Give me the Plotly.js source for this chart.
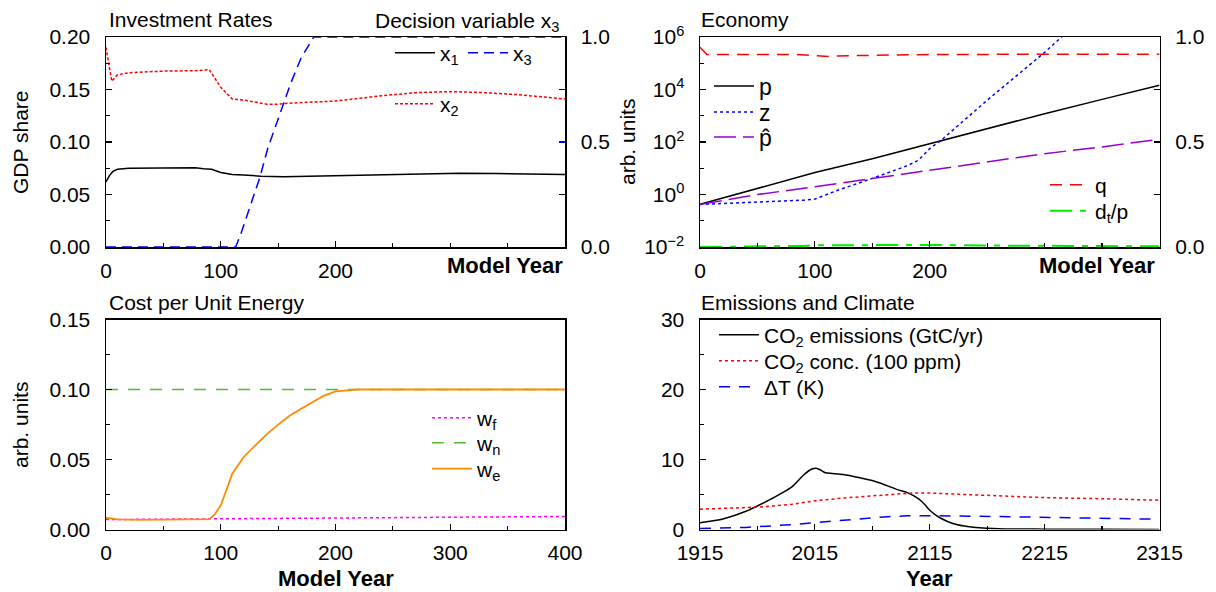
<!DOCTYPE html>
<html>
<head>
<meta charset="utf-8">
<script src="https://cdn.plot.ly/plotly-3.0.1.min.js"></script>
<style>html,body{margin:0;padding:0;background:#fff;}#chart{width:1216px;height:592px;}</style>
</head>
<body>
<div id="chart"></div>
<script>
// ---------- Investment Rates (Model Year 0-400) ----------
const x1Years = [0,3,6,10,20,40,60,78,85,92,100,105,110,120,135,155,175,200,240,275,308,341,381,400];
const x1Vals  = [0.062,0.068,0.072,0.074,0.075,0.075,0.075,0.0755,0.0745,0.074,0.071,0.070,0.069,0.0685,0.0675,0.067,0.0675,0.068,0.069,0.070,0.0703,0.070,0.069,0.069];
const x2Years = [0,5,10,20,50,80,90,100,110,120,140,150,160,200,240,270,300,330,360,390,400];
const x2Vals  = [0.19,0.158,0.164,0.166,0.1675,0.168,0.169,0.152,0.141,0.140,0.136,0.136,0.137,0.139,0.144,0.147,0.148,0.147,0.145,0.1417,0.141];
const x3Years = [0,113,118,124,134,141,153,161,170,181,400];
const x3Vals  = [0,0,0.07,0.17,0.33,0.47,0.66,0.78,0.9,1.0,1.0];

// ---------- Economy ----------
const pYears = [0,50,100,150,200,250,300,350,400];
const pVals  = [0.42,1.7,6.9,23,87,320,1200,4200,14400];
const zYears = [0,50,90,100,120,150,180,190,200,210,250,300,320];
const zVals  = [0.42,0.5,0.61,0.67,1.46,4.1,12.3,20,56,117,3900,2.6e5,1.6e6];
const pHatYears = [0,50,100,150,200,250,300,350,400];
const pHatVals  = [0.42,1.0,1.96,4.1,8.4,17.5,36,65,127];
const qYears = [0,6,83,97,105,112,118,152,200,400];
const qVals  = [4.1e5,2.17e5,2.17e5,1.98e5,1.82e5,1.82e5,1.9e5,2.05e5,2.17e5,2.2e5];
const dtYears = [0,50,90,100,150,200,250,300,350,400];
const dtVals  = [0,0.001,0.005,0.008,0.01,0.01,0.007,0.005,0.004,0.003];

// ---------- Cost per Unit Energy ----------
const weYears = [0,10,30,60,90,95,100,105,110,120,130,140,150,160,170,180,190,200,210,220,400];
const weVals  = [0.0084,0.0072,0.0069,0.0073,0.0074,0.011,0.0173,0.0283,0.0399,0.0518,0.060,0.068,0.0749,0.0813,0.0863,0.0908,0.0956,0.0987,0.0995,0.1,0.1];
const wnYears = [0,400];
const wnVals  = [0.1,0.1];
const wfYears = [0,100,200,300,400];
const wfVals  = [0.0071,0.0077,0.0083,0.0088,0.0093];

// ---------- Emissions and Climate ----------
const emYears = [1915,1935,1955,1975,1995,2005,2012,2016,2020,2024,2030,2040,2067,2087,2095,2105,2111,2115,2120,2125,2135,2145,2155,2175,2215,2265,2315];
const emVals  = [0.95,1.5,2.6,4.2,6.1,7.75,8.6,8.75,8.5,8.1,8.0,7.85,6.9,5.7,5.3,4.4,3.5,2.76,2.1,1.57,0.86,0.5,0.3,0.1,0.05,0.02,0.0];
const concYears = [1915,1965,1995,2015,2040,2067,2085,2101,2115,2135,2169,2214,2272,2315];
const concVals  = [2.9,3.2,3.6,4.1,4.5,4.8,5.1,5.23,5.2,5.09,4.85,4.56,4.37,4.18];
const dTYears = [1915,1955,1995,2015,2035,2055,2075,2095,2115,2155,2215,2265,2315];
const dTVals  = [0.14,0.3,0.7,1.0,1.3,1.6,1.8,1.95,1.98,1.9,1.71,1.6,1.47];

// ---------- tick labels ----------
const tlXTickVals = [0,100,200];
const logTickVals = [1e-2,1,1e2,1e4,1e6];
const logTickText = ['10<sup>\u22122</sup>','10<sup>0</sup>','10<sup>2</sup>','10<sup>4</sup>','10<sup>6</sup>'];
const unitTickVals = [0,0.5,1];
const unitTickText = ['0.0','0.5','1.0'];
const yearTickVals = [1915,2015,2115,2215,2315];

const FONT = 'Liberation Sans, Arial, Helvetica, sans-serif';
const W = 1216, H = 592;
const px = v => v / W;
const py = v => 1 - v / H;

const XL = [px(106), px(565)];
const XR = [px(700), px(1159.5)];
const YT = [py(247), py(37)];
const YB = [py(529.5), py(319.5)];

function ax(extra) {
  return Object.assign({
    showline: true, linecolor: '#000', linewidth: 1.5,
    ticks: 'inside', ticklen: 6, tickwidth: 1.2, tickcolor: '#000',
    showgrid: false, zeroline: false, fixedrange: true,
    tickfont: {family: FONT, size: 21, color: '#000'}
  }, extra);
}

const traces = [
  {x: x1Years, y: x1Vals, xaxis: 'x', yaxis: 'y', mode: 'lines', name: 'x<sub>1</sub>', legend: 'legend',
   line: {color: '#000', width: 1.5}},
  {x: x3Years, y: x3Vals, xaxis: 'x', yaxis: 'y2', mode: 'lines', name: 'x<sub>3</sub>', legend: 'legend2',
   line: {color: '#0000ff', width: 1.5, dash: '10px,6px'}},
  {x: x2Years, y: x2Vals, xaxis: 'x', yaxis: 'y', mode: 'lines', name: 'x<sub>2</sub>', legend: 'legend3',
   line: {color: '#ff0000', width: 1.5, dash: '3px,2px'}},

  {x: pYears, y: pVals, xaxis: 'x2', yaxis: 'y3', mode: 'lines', name: 'p', legend: 'legend4',
   line: {color: '#000', width: 1.5}},
  {x: zYears, y: zVals, xaxis: 'x2', yaxis: 'y3', mode: 'lines', name: 'z', legend: 'legend5',
   line: {color: '#0000ff', width: 1.5, dash: '3px,3px'}},
  {x: pHatYears, y: pHatVals, xaxis: 'x2', yaxis: 'y3', mode: 'lines', name: 'p\u0302', legend: 'legend6',
   line: {color: '#9400d3', width: 1.5, dash: '22px,7px'}},
  {x: qYears, y: qVals, xaxis: 'x2', yaxis: 'y3', mode: 'lines', name: 'q', legend: 'legend7',
   line: {color: '#ff0000', width: 1.5, dash: '12px,8px'}},
  {x: dtYears, y: dtVals, xaxis: 'x2', yaxis: 'y4', mode: 'lines', name: 'd<sub>t</sub>/p', legend: 'legend8',
   line: {color: '#00ee00', width: 2, dash: '22px,8px,6px,8px'}},

  {x: wfYears, y: wfVals, xaxis: 'x3', yaxis: 'y5', mode: 'lines', name: 'w<sub>f</sub>', legend: 'legend9',
   line: {color: '#ff00ff', width: 1.5, dash: '3px,3px'}},
  {x: wnYears, y: wnVals, xaxis: 'x3', yaxis: 'y5', mode: 'lines', name: 'w<sub>n</sub>', legend: 'legend10',
   line: {color: '#55bb33', width: 1.5, dash: '12px,10px'}},
  {x: weYears, y: weVals, xaxis: 'x3', yaxis: 'y5', mode: 'lines', name: 'w<sub>e</sub>', legend: 'legend11',
   line: {color: '#ff8c00', width: 1.8}},

  {x: emYears, y: emVals, xaxis: 'x4', yaxis: 'y6', mode: 'lines', name: 'CO<sub>2</sub> emissions (GtC/yr)', legend: 'legend12',
   line: {color: '#000', width: 1.5, shape: 'spline', smoothing: 0.6}},
  {x: concYears, y: concVals, xaxis: 'x4', yaxis: 'y6', mode: 'lines', name: 'CO<sub>2</sub> conc. (100 ppm)', legend: 'legend13',
   line: {color: '#ff0000', width: 1.5, dash: '3px,3px'}},
  {x: dTYears, y: dTVals, xaxis: 'x4', yaxis: 'y6', mode: 'lines', name: '\u0394T (K)', legend: 'legend14',
   line: {color: '#0000ff', width: 1.5, dash: '11px,9px'}}
];

function leg(xPix, yPix, size) {
  return {x: px(xPix), y: py(yPix), xanchor: 'left', yanchor: 'middle',
    bgcolor: 'rgba(0,0,0,0)', borderwidth: 0, itemwidth: 40,
    font: {family: FONT, size: size || 21, color: '#000'}, tracegroupgap: 0};
}

function ann(text, xPix, yPix, xanchor, opts) {
  return Object.assign({text: text, x: px(xPix), y: py(yPix), xref: 'paper', yref: 'paper',
    xanchor: xanchor, yanchor: 'middle', showarrow: false,
    font: {family: FONT, size: 21, color: '#000'}}, opts || {});
}
const boldFont = {family: FONT, size: 22, color: '#000', weight: 'bold'};

const layout = {
  width: W, height: H,
  margin: {l: 0, r: 0, t: 0, b: 0},
  paper_bgcolor: '#fff', plot_bgcolor: '#fff',
  font: {family: FONT, size: 21, color: '#000'},
  showlegend: true,
  xaxis: ax({domain: XL, anchor: 'y', range: [0, 400], tickvals: tlXTickVals,
    mirror: true, ticklabelstandoff: 4, minor: {dtick: 50, ticklen: 4, tickcolor: '#000', ticks: 'inside'}}),
  yaxis: ax({domain: YT, anchor: 'x', range: [0, 0.2], dtick: 0.05, tickformat: '.2f',
    ticklabelstandoff: 10, minor: {dtick: 0.025, ticklen: 4, tickcolor: '#000', ticks: 'inside'}}),
  yaxis2: ax({domain: YT, anchor: 'x', overlaying: 'y', side: 'right', range: [0, 1],
    tickvals: unitTickVals, ticktext: unitTickText, tickcolor: '#0000ff', ticklabelstandoff: 10,
    minor: {tickvals: [0.25, 0.75], ticklen: 6, tickcolor: '#000', ticks: 'inside'}}),

  xaxis2: ax({domain: XR, anchor: 'y3', range: [0, 400], tickvals: tlXTickVals,
    mirror: true, ticklabelstandoff: 4, minor: {dtick: 50, ticklen: 4, tickcolor: '#000', ticks: 'inside'}}),
  yaxis3: ax({domain: YT, anchor: 'x2', type: 'log', range: [-2, 6], tickvals: logTickVals, ticktext: logTickText,
    ticklabelstandoff: 10, minor: {tickvals: [0.1, 10, 1000, 1e5], ticklen: 4, tickcolor: '#000', ticks: 'inside'}}),
  yaxis4: ax({domain: YT, anchor: 'x2', overlaying: 'y3', side: 'right', range: [0, 1],
    tickvals: unitTickVals, ticktext: unitTickText, ticklabelstandoff: 10,
    minor: {tickvals: [0.25, 0.75], ticklen: 6, tickcolor: '#000', ticks: 'inside'}}),

  xaxis3: ax({domain: XL, anchor: 'y5', range: [0, 400], dtick: 100, mirror: true, ticklabelstandoff: 4,
    minor: {dtick: 50, ticklen: 4, tickcolor: '#000', ticks: 'inside'}}),
  yaxis5: ax({domain: YB, anchor: 'x3', range: [0, 0.15], dtick: 0.05, tickformat: '.2f', mirror: true,
    ticklabelstandoff: 10, minor: {dtick: 0.025, ticklen: 4, tickcolor: '#000', ticks: 'inside'}}),

  xaxis4: ax({domain: XR, anchor: 'y6', range: [1915, 2315], tickvals: yearTickVals, mirror: true, ticklabelstandoff: 4,
    minor: {dtick: 50, tick0: 1915, ticklen: 4, tickcolor: '#000', ticks: 'inside'}}),
  yaxis6: ax({domain: YB, anchor: 'x4', range: [0, 30], dtick: 10, mirror: true, ticklabelstandoff: 10,
    minor: {dtick: 5, ticklen: 4, tickcolor: '#000', ticks: 'inside'}}),

  legend:   leg(390, 53),
  legend2:  leg(463, 53),
  legend3:  leg(390, 104),
  legend4:  leg(709, 86, 23),
  legend5:  leg(709, 112, 23),
  legend6:  leg(709, 137, 23),
  legend7:  leg(1045, 185),
  legend8:  leg(1045, 211),
  legend9:  leg(427, 418),
  legend10: leg(427, 443),
  legend11: leg(427, 469),
  legend12: leg(714, 335),
  legend13: leg(714, 361),
  legend14: leg(714, 387),

  annotations: [
    ann('Investment Rates', 107, 20, 'left'),
    ann('Decision variable x<sub>3</sub>', 561, 22, 'right'),
    ann('Economy', 699, 20, 'left'),
    ann('Cost per Unit Energy', 107, 302, 'left'),
    ann('Emissions and Climate', 699, 302, 'left'),
    ann('Model Year', 565, 265, 'right', {font: boldFont}),
    ann('Model Year', 1157, 265, 'right', {font: boldFont}),
    ann('Model Year', 336, 578, 'center', {font: boldFont}),
    ann('Year', 929, 578, 'center', {font: boldFont}),
    ann('GDP share', 20, 142, 'center', {textangle: -90}),
    ann('arb. units', 627, 142, 'center', {textangle: -90}),
    ann('arb. units', 20, 425, 'center', {textangle: -90})
  ]
};

Plotly.newPlot('chart', traces, layout, {staticPlot: true, displayModeBar: false});
</script>
</body>
</html>
